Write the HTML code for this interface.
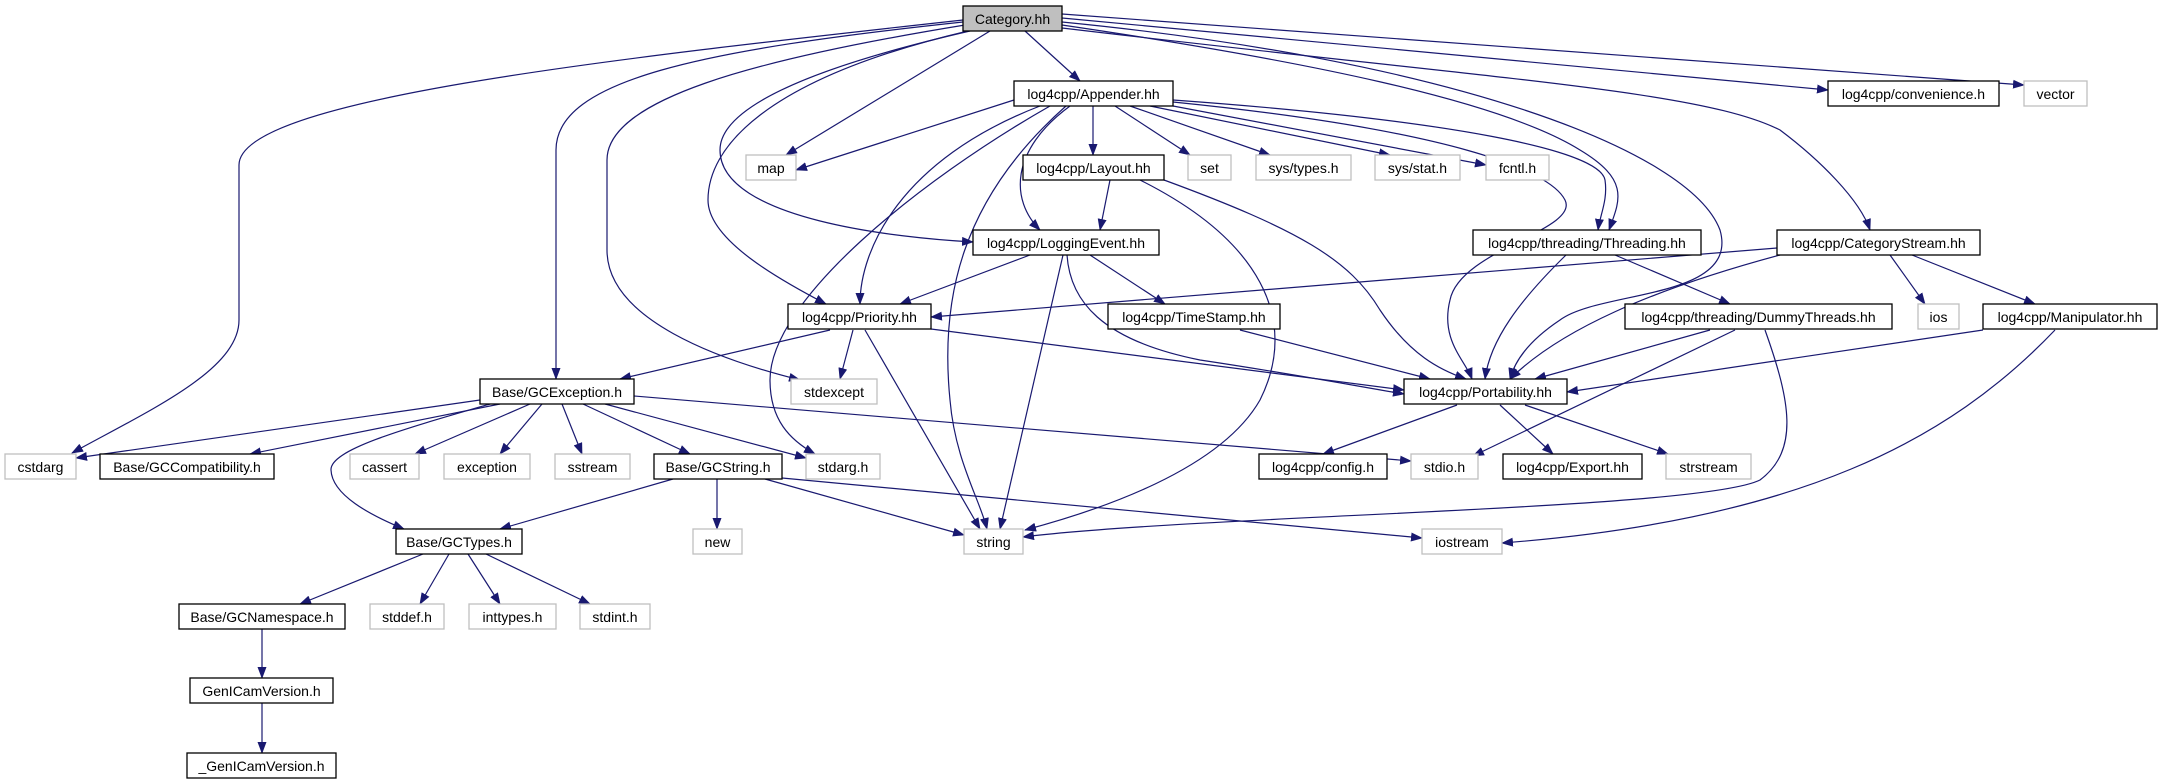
<!DOCTYPE html>
<html><head><meta charset="utf-8"><style>
html,body{margin:0;padding:0;background:#fff;}
svg{display:block;}
text{font-family:"Liberation Sans",Arial,sans-serif;font-size:14px;fill:#000;text-anchor:middle;}
.n{fill:#fff;stroke:#000;stroke-width:1.3;}
.g{fill:#fff;stroke:#bfbfbf;stroke-width:1.3;}
.e{fill:none;stroke:#191970;stroke-width:1.2;marker-end:url(#a);}
</style></head><body>
<svg width="2159" height="784" viewBox="0 0 2159 784" xmlns="http://www.w3.org/2000/svg">
<defs><marker id="a" markerWidth="12" markerHeight="9" refX="11" refY="4.5" orient="auto" markerUnits="userSpaceOnUse"><path d="M0,0 L12,4.5 L0,9 z" fill="#191970"/></marker></defs>
<g>
<path class="e" d="M963,20 C600,60 239,100 239,165 L239,320 C239,370 150,410 72,453"/>
<path class="e" d="M963,22 C700,50 556,80 556,150 L556,379"/>
<path class="e" d="M965,25 C750,60 607,100 607,160 L607,250 C607,320 720,360 800,380"/>
<path class="e" d="M968,31 C760,80 708,150 708,200 C708,240 780,280 826,304"/>
<path class="e" d="M970,31 C800,70 720,110 720,150 C720,220 900,238 973,242"/>
<path class="e" d="M990,31 L786,155"/>
<path class="e" d="M1025,31 L1080,81"/>
<path class="e" d="M1062,25 C1300,60 1500,100 1580,150 C1630,180 1620,200 1609,230"/>
<path class="e" d="M1062,22 C1450,60 1690,150 1720,230 C1740,300 1600,290 1560,320 C1530,340 1515,360 1510,379"/>
<path class="e" d="M1062,18 L1828,90"/>
<path class="e" d="M1062,14 L2024,85"/>
<path class="e" d="M1062,28 C1500,80 1700,90 1780,130 C1820,160 1860,200 1870,230"/>
<path class="e" d="M1014,100 L796,170"/>
<path class="e" d="M1093,106 L1093,155"/>
<path class="e" d="M1115,106 L1190,155"/>
<path class="e" d="M1130,106 L1270,155"/>
<path class="e" d="M1150,106 L1390,155"/>
<path class="e" d="M1173,106 L1486,165"/>
<path class="e" d="M1066,106 C960,200 940,300 950,400 C955,460 980,500 987,529"/>
<path class="e" d="M1050,106 C920,180 770,300 770,380 C770,420 790,440 815,454"/>
<path class="e" d="M1040,106 C900,160 860,250 860,304"/>
<path class="e" d="M1070,106 C1010,150 1010,200 1040,230"/>
<path class="e" d="M1173,100 C1450,120 1600,150 1605,180 C1608,200 1600,215 1598,230"/>
<path class="e" d="M1173,102 C1450,130 1550,170 1565,200 C1580,230 1460,250 1450,300 C1440,340 1465,360 1472,379"/>
<path class="e" d="M1110,180 L1100,230"/>
<path class="e" d="M1164,180 C1300,230 1350,260 1380,310 C1410,355 1440,370 1466,379"/>
<path class="e" d="M1140,180 C1260,240 1300,320 1260,400 C1220,470 1100,510 1025,530"/>
<path class="e" d="M1030,255 L900,304"/>
<path class="e" d="M1090,255 L1165,304"/>
<path class="e" d="M1067,255 C1070,300 1100,340 1200,360 C1300,375 1350,385 1404,394"/>
<path class="e" d="M1063,255 L1000,529"/>
<path class="e" d="M830,330 L620,379"/>
<path class="e" d="M853,330 L840,379"/>
<path class="e" d="M865,330 L980,529"/>
<path class="e" d="M931,329 L1404,390"/>
<path class="e" d="M1240,330 L1430,379"/>
<path class="e" d="M1566,255 C1520,300 1490,340 1485,379"/>
<path class="e" d="M1615,255 L1730,304"/>
<path class="e" d="M1777,248 L931,317"/>
<path class="e" d="M1780,255 C1650,290 1560,330 1510,379"/>
<path class="e" d="M1890,255 L1925,304"/>
<path class="e" d="M1912,255 L2035,304"/>
<path class="e" d="M1710,330 L1535,379"/>
<path class="e" d="M1735,330 L1473,456"/>
<path class="e" d="M1765,330 C1790,400 1800,450 1760,480 C1700,510 1200,515 1023,537"/>
<path class="e" d="M1983,330 L1567,392"/>
<path class="e" d="M2055,330 C1950,440 1800,520 1502,543"/>
<path class="e" d="M1457,405 L1323,454"/>
<path class="e" d="M1500,405 L1553,454"/>
<path class="e" d="M1525,405 L1668,454"/>
<path class="e" d="M480,400 L76,458"/>
<path class="e" d="M500,404 L250,454"/>
<path class="e" d="M490,404 C400,430 330,450 331,470 C332,495 370,515 404,529"/>
<path class="e" d="M530,404 L415,454"/>
<path class="e" d="M542,404 L500,454"/>
<path class="e" d="M562,404 L582,454"/>
<path class="e" d="M583,404 L690,454"/>
<path class="e" d="M605,404 L806,458"/>
<path class="e" d="M634,396 L1411,461"/>
<path class="e" d="M673,479 L500,529"/>
<path class="e" d="M717,479 L717,529"/>
<path class="e" d="M765,479 L964,535"/>
<path class="e" d="M782,478 L1422,538"/>
<path class="e" d="M423,554 L300,604"/>
<path class="e" d="M449,554 L420,604"/>
<path class="e" d="M468,554 L500,604"/>
<path class="e" d="M486,554 L590,604"/>
<path class="e" d="M262,629 L262,678"/>
<path class="e" d="M262,703 L262,753"/>
</g>
<g>
<rect x="963" y="6" width="99" height="25" fill="#bfbfbf" stroke="#000" stroke-width="1.3"/><text x="1012.5" y="24">Category.hh</text>
<rect class="n" x="1014" y="81" width="159" height="25"/><text x="1093.5" y="99">log4cpp/Appender.hh</text>
<rect class="n" x="1828" y="81" width="171" height="25"/><text x="1913.5" y="99">log4cpp/convenience.h</text>
<rect class="g" x="2024" y="81" width="63" height="25"/><text x="2055.5" y="99">vector</text>
<rect class="g" x="746" y="155" width="50" height="25"/><text x="771" y="173">map</text>
<rect class="n" x="1023" y="155" width="141" height="25"/><text x="1093.5" y="173">log4cpp/Layout.hh</text>
<rect class="g" x="1188" y="155" width="43" height="25"/><text x="1209.5" y="173">set</text>
<rect class="g" x="1256" y="155" width="95" height="25"/><text x="1303.5" y="173">sys/types.h</text>
<rect class="g" x="1375" y="155" width="85" height="25"/><text x="1417.5" y="173">sys/stat.h</text>
<rect class="g" x="1486" y="155" width="63" height="25"/><text x="1517.5" y="173">fcntl.h</text>
<rect class="n" x="973" y="230" width="186" height="25"/><text x="1066" y="248">log4cpp/LoggingEvent.hh</text>
<rect class="n" x="1473" y="230" width="228" height="25"/><text x="1587" y="248">log4cpp/threading/Threading.hh</text>
<rect class="n" x="1777" y="230" width="203" height="25"/><text x="1878.5" y="248">log4cpp/CategoryStream.hh</text>
<rect class="n" x="788" y="304" width="143" height="25"/><text x="859.5" y="322">log4cpp/Priority.hh</text>
<rect class="n" x="1108" y="304" width="172" height="25"/><text x="1194" y="322">log4cpp/TimeStamp.hh</text>
<rect class="n" x="1625" y="304" width="267" height="25"/><text x="1758.5" y="322">log4cpp/threading/DummyThreads.hh</text>
<rect class="g" x="1918" y="304" width="41" height="25"/><text x="1938.5" y="322">ios</text>
<rect class="n" x="1983" y="304" width="174" height="25"/><text x="2070" y="322">log4cpp/Manipulator.hh</text>
<rect class="n" x="480" y="379" width="154" height="25"/><text x="557" y="397">Base/GCException.h</text>
<rect class="g" x="791" y="379" width="86" height="25"/><text x="834" y="397">stdexcept</text>
<rect class="n" x="1404" y="379" width="163" height="25"/><text x="1485.5" y="397">log4cpp/Portability.hh</text>
<rect class="g" x="5" y="454" width="71" height="25"/><text x="40.5" y="472">cstdarg</text>
<rect class="n" x="100" y="454" width="174" height="25"/><text x="187" y="472">Base/GCCompatibility.h</text>
<rect class="g" x="350" y="454" width="69" height="25"/><text x="384.5" y="472">cassert</text>
<rect class="g" x="444" y="454" width="86" height="25"/><text x="487" y="472">exception</text>
<rect class="g" x="555" y="454" width="75" height="25"/><text x="592.5" y="472">sstream</text>
<rect class="n" x="654" y="454" width="128" height="25"/><text x="718" y="472">Base/GCString.h</text>
<rect class="g" x="806" y="454" width="74" height="25"/><text x="843" y="472">stdarg.h</text>
<rect class="n" x="1259" y="454" width="128" height="25"/><text x="1323" y="472">log4cpp/config.h</text>
<rect class="g" x="1411" y="454" width="67" height="25"/><text x="1444.5" y="472">stdio.h</text>
<rect class="n" x="1503" y="454" width="139" height="25"/><text x="1572.5" y="472">log4cpp/Export.hh</text>
<rect class="g" x="1666" y="454" width="85" height="25"/><text x="1708.5" y="472">strstream</text>
<rect class="n" x="396" y="529" width="126" height="25"/><text x="459" y="547">Base/GCTypes.h</text>
<rect class="g" x="693" y="529" width="49" height="25"/><text x="717.5" y="547">new</text>
<rect class="g" x="964" y="529" width="59" height="25"/><text x="993.5" y="547">string</text>
<rect class="g" x="1422" y="529" width="80" height="25"/><text x="1462" y="547">iostream</text>
<rect class="n" x="179" y="604" width="166" height="25"/><text x="262" y="622">Base/GCNamespace.h</text>
<rect class="g" x="370" y="604" width="74" height="25"/><text x="407" y="622">stddef.h</text>
<rect class="g" x="469" y="604" width="87" height="25"/><text x="512.5" y="622">inttypes.h</text>
<rect class="g" x="580" y="604" width="70" height="25"/><text x="615" y="622">stdint.h</text>
<rect class="n" x="190" y="678" width="143" height="25"/><text x="261.5" y="696">GenICamVersion.h</text>
<rect class="n" x="187" y="753" width="149" height="25"/><text x="261.5" y="771">_GenICamVersion.h</text>
</g>
</svg>
</body></html>
